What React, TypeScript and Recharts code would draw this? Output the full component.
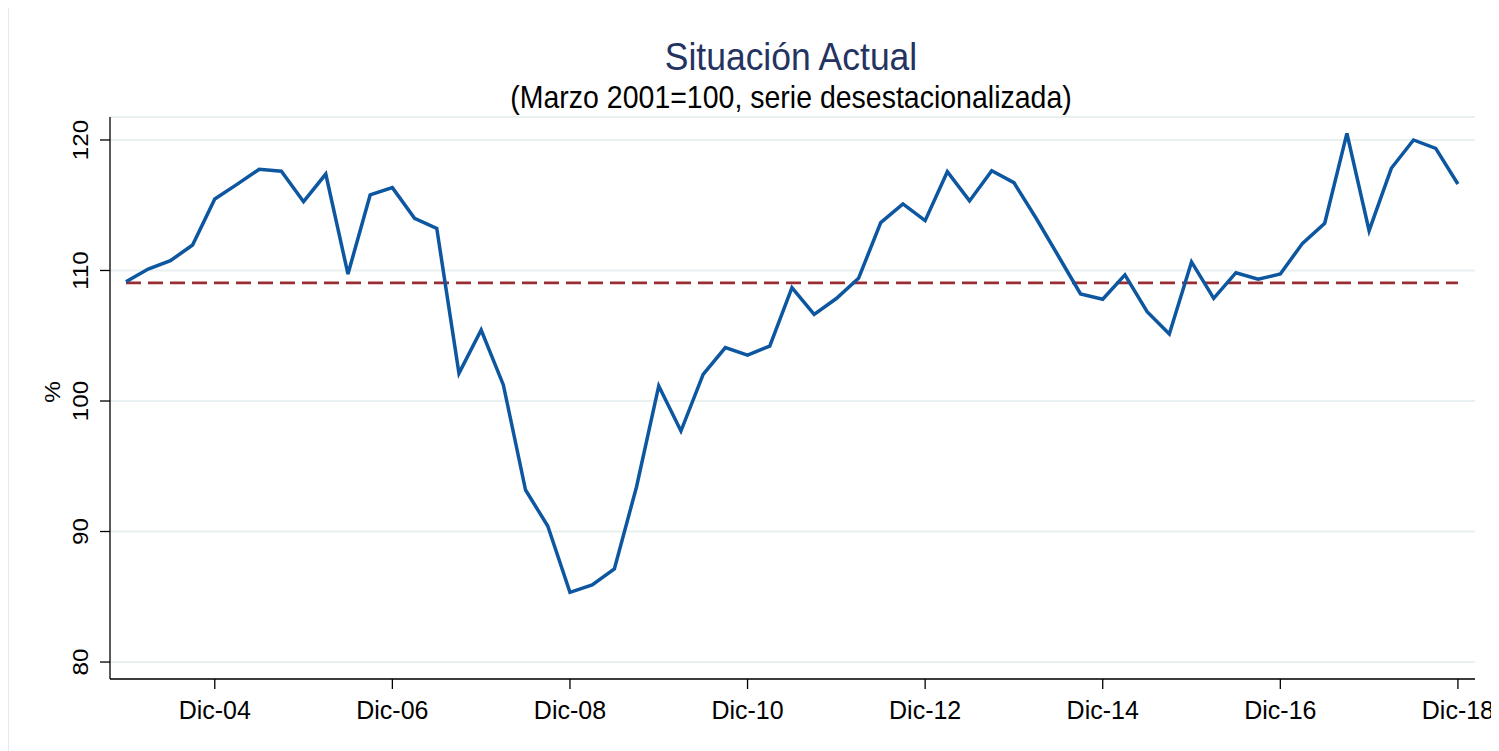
import { LineChart, Line, XAxis, YAxis, CartesianGrid, ReferenceLine } from 'recharts';

// Trimestres, de Dic-03 a Dic-18
const periodos = [
  'Dic-03',
  'Mar-04', 'Jun-04', 'Sep-04', 'Dic-04',
  'Mar-05', 'Jun-05', 'Sep-05', 'Dic-05',
  'Mar-06', 'Jun-06', 'Sep-06', 'Dic-06',
  'Mar-07', 'Jun-07', 'Sep-07', 'Dic-07',
  'Mar-08', 'Jun-08', 'Sep-08', 'Dic-08',
  'Mar-09', 'Jun-09', 'Sep-09', 'Dic-09',
  'Mar-10', 'Jun-10', 'Sep-10', 'Dic-10',
  'Mar-11', 'Jun-11', 'Sep-11', 'Dic-11',
  'Mar-12', 'Jun-12', 'Sep-12', 'Dic-12',
  'Mar-13', 'Jun-13', 'Sep-13', 'Dic-13',
  'Mar-14', 'Jun-14', 'Sep-14', 'Dic-14',
  'Mar-15', 'Jun-15', 'Sep-15', 'Dic-15',
  'Mar-16', 'Jun-16', 'Sep-16', 'Dic-16',
  'Mar-17', 'Jun-17', 'Sep-17', 'Dic-17',
  'Mar-18', 'Jun-18', 'Sep-18', 'Dic-18',
];

const valores = [
  109.14,
  110.11, 110.75, 111.95, 115.48,
  116.6, 117.75, 117.6, 115.27,
  117.39, 109.73, 115.79, 116.35,
  114.0, 113.23, 102.12, 105.44,
  101.23, 93.18, 90.42, 85.34,
  85.9, 87.13, 93.43, 101.15,
  97.7, 102.04, 104.09, 103.52,
  104.21, 108.68, 106.64, 107.85,
  109.4, 113.67, 115.1, 113.82,
  117.57, 115.33, 117.65, 116.73,
  114.0, 111.11, 108.2, 107.8,
  109.66, 106.84, 105.13, 110.66,
  107.87, 109.83, 109.33, 109.73,
  112.08, 113.62, 120.51, 113.05,
  117.83, 120.0, 119.36, 116.63,
];

// promedio del periodo (linea punteada)
const promedio = 109.05;

const yTicks = [80, 90, 100, 110, 120];
const xTicks = ['Dic-04', 'Dic-06', 'Dic-08', 'Dic-10', 'Dic-12', 'Dic-14', 'Dic-16', 'Dic-18'];

const FONT = '"Liberation Sans", Arial, Helvetica, sans-serif';

const data = periodos.map((periodo, i) => ({ i, periodo, valor: valores[i] }));
const xTickIdx = xTicks.map((t) => periodos.indexOf(t));

// etiquetas verticales del eje Y (texto algo estirado, como en el original)
const YTick = ({ y, payload }: any) => (
  <text
    x={0}
    y={0}
    transform={`translate(80 ${y}) rotate(-90) scale(1.1 1)`}
    textAnchor="middle"
    fontSize={22}
    fontFamily={FONT}
    fill="#000"
  >
    {payload.value}
  </text>
);

const XTick = ({ x, payload }: any) => (
  <text
    x={0}
    y={0}
    transform={`translate(${x} 711) scale(1 1.06)`}
    textAnchor="middle"
    fontSize={25}
    fontFamily={FONT}
    fill="#000"
  >
    {periodos[payload.value]}
  </text>
);

export default function App() {
  return (
    <div style={{ position: 'relative', width: 1483, height: 743 }}>
      <style>{'.recharts-surface{overflow:visible}'}</style>
      <LineChart
        width={1483}
        height={743}
        data={data}
        margin={{ top: 109, right: 16, bottom: 12, left: 0 }}
      >
        <CartesianGrid vertical={false} stroke="#e8f0f1" strokeWidth={2} />
        <XAxis
          type="number"
          dataKey="i"
          domain={[-0.72, 60.77]}
          ticks={xTickIdx}
          allowDataOverflow
          height={60}
          stroke="#000"
          strokeWidth={1.3}
          tickSize={10}
          tick={<XTick />}
        />
        <YAxis
          type="number"
          domain={[78.7, 121.76]}
          ticks={yTicks}
          allowDataOverflow
          width={102}
          stroke="#000"
          strokeWidth={1.3}
          tickSize={10}
          tick={<YTick />}
        />
        <ReferenceLine
          segment={[
            { x: 0, y: promedio },
            { x: periodos.length - 1, y: promedio },
          ]}
          stroke="#9a2d33"
          strokeWidth={2.6}
          strokeDasharray="15 7"
        />
        <Line
          type="linear"
          dataKey="valor"
          stroke="#0d56a0"
          strokeWidth={3.5}
          dot={false}
          isAnimationActive={false}
        />
      </LineChart>
      <svg
        width={1499}
        height={751}
        style={{ position: 'absolute', left: -8, top: -8, pointerEvents: 'none' }}
      >
        <line x1={8.5} y1={7.5} x2={8.5} y2={751} stroke="#e4eced" strokeWidth={1} />
        <line x1={8.5} y1={7.5} x2={1499} y2={7.5} stroke="#e4eced" strokeWidth={1} />
        <text
          x={0}
          y={0}
          transform="translate(791 70) scale(1 1.1)"
          textAnchor="middle"
          fontSize={35.5}
          fontFamily={FONT}
          fill="#24335f"
        >
          Situación Actual
        </text>
        <text
          x={0}
          y={0}
          transform="translate(791 108) scale(1 1.12)"
          textAnchor="middle"
          fontSize={28.5}
          fontFamily={FONT}
          fill="#000"
        >
          (Marzo 2001=100, serie desestacionalizada)
        </text>
        <text
          x={0}
          y={0}
          transform="translate(60 392) rotate(-90) scale(1.1 1)"
          textAnchor="middle"
          fontSize={22}
          fontFamily={FONT}
          fill="#000"
        >
          %
        </text>
      </svg>
    </div>
  );
}
